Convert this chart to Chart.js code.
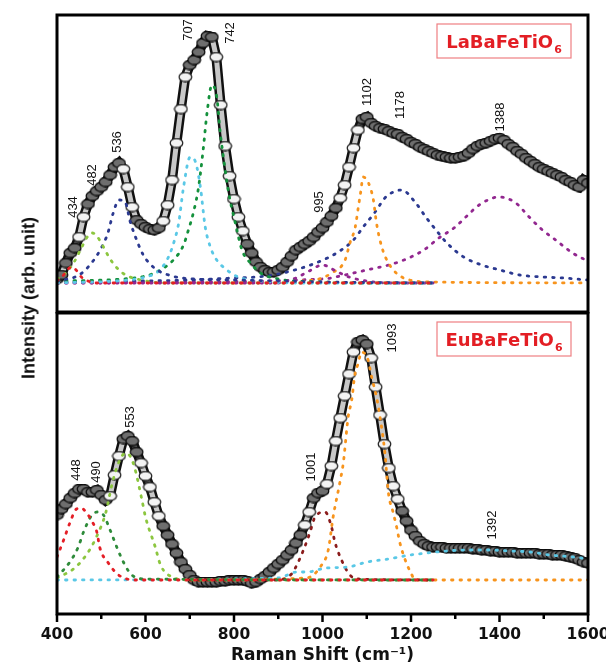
<!DOCTYPE html>
<html>
<head>
<meta charset="utf-8">
<script src="https://cdn.jsdelivr.net/npm/chart.js@4.4.0/dist/chart.umd.min.js"></script>
<style>
    body { margin: 0; background: #fff; }
    #wrap { position: relative; width: 606px; height: 664px; }
    #topChart { position: absolute; left: 0; top: 0; }
    #bottomChart { position: absolute; left: 0; top: 312px; }
    #yTitle {
        position: absolute; left: 29px; top: 298px;
        transform: translate(-50%, -50%) rotate(-90deg);
        font: bold 18px "Liberation Sans", Arial, sans-serif;
        white-space: nowrap; color: #111;
    }
</style>
</head>
<body>
<div id="wrap">
    <canvas id="topChart" width="606" height="314"></canvas>
    <canvas id="bottomChart" width="606" height="352"></canvas>
    <div id="yTitle">Intensity (arb. unit)</div>
</div>
<script>
// Raman shift grid of the measured spectra (cm-1)
const ramanShift = [
    400, 410, 420, 430, 440, 450, 460, 470, 480, 490, 500, 510, 520, 530, 540, 550, 560, 570, 580, 590,
    600, 610, 620, 630, 640, 650, 660, 670, 680, 690, 700, 710, 720, 730, 740, 750, 760, 770, 780, 790,
    800, 810, 820, 830, 840, 850, 860, 870, 880, 890, 900, 910, 920, 930, 940, 950, 960, 970, 980, 990,
    1000, 1010, 1020, 1030, 1040, 1050, 1060, 1070, 1080, 1090, 1100, 1110, 1120, 1130, 1140, 1150, 1160, 1170, 1180, 1190,
    1200, 1210, 1220, 1230, 1240, 1250, 1260, 1270, 1280, 1290, 1300, 1310, 1320, 1330, 1340, 1350, 1360, 1370, 1380, 1390,
    1400, 1410, 1420, 1430, 1440, 1450, 1460, 1470, 1480, 1490, 1500, 1510, 1520, 1530, 1540, 1550, 1560, 1570, 1580, 1590,
    1600
];

// LaBaFeTiO6 measured intensity (arb. unit)
const laSpectrum = [
    4, 8, 20, 30, 35, 46, 66, 79, 87, 92, 96, 101, 108, 116, 120, 114, 96, 76, 63, 59,
    56, 54, 53, 55, 62, 78, 103, 140, 174, 206, 218, 223, 231, 240, 247, 246, 226, 178, 137, 107,
    84, 66, 52, 39, 30, 21, 16, 13, 11, 11, 13, 16, 21, 27, 33, 36, 39, 42, 46, 51,
    55, 61, 67, 75, 85, 98, 116, 135, 153, 164, 166, 160, 157, 155, 154, 152, 150, 149, 146, 144,
    141, 139, 136, 134, 132, 130, 128, 127, 126, 125, 125, 126, 127, 130, 134, 137, 139, 140, 142, 144,
    145, 143, 139, 136, 132, 129, 125, 122, 119, 116, 114, 112, 110, 108, 106, 103, 101, 98, 96, 103,
    100
];

// EuBaFeTiO6 measured intensity (arb. unit)
const euSpectrum = [
    65, 71, 76, 82, 87, 91, 91, 88, 88, 90, 85, 80, 84, 105, 124, 141, 144, 139, 128, 117,
    104, 93, 78, 64, 54, 45, 36, 27, 18, 11, 5, 0, -2, -2, -2, -2, -2, -1, -1, 0,
    0, 0, 0, -1, -3, -2, 1, 4, 8, 12, 16, 20, 25, 30, 37, 45, 55, 68, 82, 87,
    89, 96, 114, 139, 162, 184, 206, 228, 238, 240, 236, 222, 193, 165, 136, 112, 94, 81, 69, 59,
    50, 44, 39, 36, 34, 33, 33, 33, 32, 32, 32, 32, 32, 32, 31, 31, 30, 30, 29, 29,
    28, 28, 28, 28, 27, 27, 27, 27, 27, 26, 26, 26, 25, 25, 25, 24, 23, 22, 20, 18,
    17
];

// LaBaFeTiO6 fitted components
const laFit434X = [400, 415, 425, 435, 445, 455, 470, 490, 1250];
const laFit434Y = [2, 8, 14, 16, 12, 6, 2, 0, 0];
const laFit482X = [400, 420, 440, 455, 470, 480, 490, 505, 520, 540, 560, 590, 640, 1250];
const laFit482Y = [4, 10, 22, 35, 47, 50, 47, 36, 24, 13, 7, 3, 0, 0];
const laFit536X = [400, 450, 478, 500, 515, 527, 540, 555, 565, 580, 595, 620, 660, 710, 800, 900, 1000, 1250];
const laFit536Y = [2, 8, 20, 35, 50, 70, 83, 80, 62, 43, 28, 15, 7, 4, 3, 2, 1, 0];
const laFit707X = [400, 560, 600, 630, 652, 665, 675, 686, 701, 713, 724, 735, 745, 758, 784, 810, 860, 950, 1250];
const laFit707Y = [0, 3, 6, 12, 26, 42, 60, 96, 126, 121, 96, 56, 38, 25, 13, 6, 2, 0, 0];
const laFit742X = [400, 550, 600, 625, 663, 686, 697, 708, 720, 731, 739, 750, 761, 769, 776, 788, 803, 818, 837, 860, 900, 1000, 1100, 1250];
const laFit742Y = [2, 4, 7, 11, 23, 38, 53, 70, 96, 136, 170, 198, 186, 150, 126, 90, 60, 33, 20, 10, 4, 1, 0, 0];
const laFit995X = [400, 900, 940, 970, 1000, 1030, 1060, 1100, 1150, 1250];
const laFit995Y = [0, 0, 5, 12, 18, 12, 6, 2, 0, 0];
const laFit1102X = [800, 980, 1021, 1051, 1062, 1074, 1081, 1086, 1092, 1104, 1115, 1122, 1134, 1149, 1172, 1209, 1250, 1600];
const laFit1102Y = [0, 3, 10, 23, 40, 56, 76, 90, 106, 100, 83, 60, 36, 20, 8, 2, 1, 0];
const laFit1178X = [400, 700, 800, 850, 900, 960, 1001, 1032, 1070, 1092, 1119, 1141, 1160, 1179, 1209, 1235, 1262, 1281, 1319, 1360, 1401, 1446, 1499, 1544, 1600];
const laFit1178Y = [1, 3, 5, 6, 9, 16, 23, 30, 43, 56, 71, 85, 91, 93, 81, 65, 50, 40, 26, 18, 13, 8, 6, 5, 3];
const laFit1388X = [400, 1000, 1050, 1100, 1150, 1184, 1229, 1263, 1297, 1324, 1354, 1399, 1437, 1467, 1497, 1527, 1565, 1590];
const laFit1388Y = [0, 4, 8, 13, 18, 23, 33, 45, 55, 66, 78, 86, 80, 66, 53, 43, 30, 24];

// EuBaFeTiO6 fitted components
const euFit448X = [400, 415, 429, 444, 455, 467, 480, 490, 497, 516, 539, 580, 1250];
const euFit448Y = [23, 40, 57, 71, 72, 67, 58, 48, 32, 17, 5, 0, 0];
const euFit490X = [400, 429, 448, 460, 479, 492, 505, 520, 535, 550, 569, 600, 1250];
const euFit490Y = [3, 18, 33, 48, 65, 68, 65, 50, 33, 18, 5, 1, 0];
const euFit553X = [400, 440, 466, 488, 510, 525, 540, 555, 565, 575, 592, 600, 622, 634, 660, 700, 1250];
const euFit553Y = [2, 12, 25, 42, 67, 97, 118, 127, 124, 113, 80, 63, 33, 15, 3, 0, 0];
const euFitBroadX = [400, 900, 942, 964, 1009, 1058, 1100, 1149, 1198, 1236, 1281, 1326, 1375, 1424, 1469, 1514, 1567, 1600];
const euFitBroadY = [0, 2, 8, 8, 12, 13, 18, 21, 25, 27, 29, 30, 30, 29, 28, 25, 23, 21];
const euFit1001X = [700, 900, 930, 942, 957, 972, 983, 1006, 1021, 1028, 1043, 1062, 1080, 1250];
const euFit1001Y = [0, 0, 6, 15, 30, 48, 63, 68, 52, 38, 20, 5, 1, 0];
const euFit1093X = [700, 964, 998, 1013, 1024, 1039, 1047, 1058, 1066, 1073, 1081, 1088, 1103, 1111, 1122, 1130, 1141, 1149, 1160, 1168, 1175, 1187, 1202, 1209, 1600];
const euFit1093Y = [0, 2, 15, 30, 63, 97, 117, 163, 180, 205, 217, 228, 220, 203, 183, 163, 127, 87, 67, 52, 37, 20, 5, 0, 0];

// Peak annotations: text, anchor shift, anchor intensity
const laPeakText = ['434', '482', '536', '707', '742', '995', '1102', '1178', '1388'];
const laPeakAtX = [436, 481, 536, 698, 791, 994, 1101, 1175, 1401];
const laPeakAtY = [76, 108, 141, 253, 250, 81, 191, 178, 166];
const euPeakText = ['448', '490', '553', '1001', '1093', '1392'];
const euPeakAtX = [445, 490, 565, 976, 1159, 1385];
const euPeakAtY = [110, 108, 163, 113, 242, 55];

const xMajorTicks = [400, 600, 800, 1000, 1200, 1400, 1600];
const xMinorTicks = [500, 700, 900, 1100, 1300, 1500];

// Open-circle markers (slightly wide, like the original figure)
function makeRing(fill, stroke) {
    const cv = document.createElement('canvas');
    cv.width = 15;
    cv.height = 11;
    const c = cv.getContext('2d');
    c.beginPath();
    c.ellipse(7.5, 5.5, 6.3, 4.5, 0, 0, Math.PI * 2);
    c.fillStyle = fill;
    c.fill();
    c.lineWidth = 1.3;
    c.strokeStyle = stroke;
    c.stroke();
    return cv;
}
const lightRing = makeRing('#f3f3f3', '#222');
const darkRing = makeRing('#6e6e6e', '#0a0a0a');

function toPoints(xs, ys) {
    return xs.map((x, i) => ({ x: x, y: ys[i] }));
}

// steep parts of the trace show as stacked white rings, flat parts as dark overlap
function isSteep(ys, i) {
    const a = ys[Math.max(0, i - 1)], b = ys[Math.min(ys.length - 1, i + 1)];
    return Math.abs(b - a) > 22;
}

function spectrumSets(ys) {
    return [
        {
            data: toPoints(ramanShift, ys),
            showLine: true,
            borderColor: '#111',
            borderWidth: 10,
            pointRadius: 0,
            order: 12
        },
        {
            data: toPoints(ramanShift, ys),
            showLine: true,
            borderWidth: 5,
            pointRadius: 0,
            segment: {
                borderColor: c => Math.abs(c.p1.y - c.p0.y) > 2.6 * Math.abs(c.p1.x - c.p0.x) ? '#c8c8c8' : '#4a4a4a'
            },
            order: 11
        },
        {
            data: toPoints(ramanShift, ys),
            showLine: false,
            pointStyle: c => isSteep(ys, c.dataIndex) ? lightRing : darkRing,
            pointRadius: 6,
            order: 10
        }
    ];
}

function fitSet(xs, ys, color) {
    return {
        data: toPoints(xs, ys),
        showLine: true,
        borderColor: color,
        borderWidth: 2.8,
        borderDash: [1.5, 7],
        borderCapStyle: 'round',
        cubicInterpolationMode: 'monotone',
        pointRadius: 0,
        order: 0
    };
}

// Frame, peak labels, compound name box and x tick marks
function panelDecor(peakText, peakX, peakY, compound, withTicks) {
    return {
        id: 'panelDecor',
        afterDatasetsDraw(chart) {
            const ctx = chart.ctx;
            const a = chart.chartArea;
            const xs = chart.scales.x;
            const ys = chart.scales.y;
            ctx.save();

            ctx.fillStyle = '#111';
            ctx.font = '13px "Liberation Sans", Arial, sans-serif';
            ctx.textAlign = 'center';
            ctx.textBaseline = 'middle';
            peakText.forEach((t, i) => {
                ctx.save();
                ctx.translate(xs.getPixelForValue(peakX[i]), ys.getPixelForValue(peakY[i]));
                ctx.rotate(-Math.PI / 2);
                ctx.fillText(t, 0, 0);
                ctx.restore();
            });

            // compound name box
            const bw = 134, bh = 34;
            const bx = a.right - 17 - bw, by = a.top + 9;
            ctx.fillStyle = '#fff';
            ctx.fillRect(bx, by, bw, bh);
            ctx.strokeStyle = '#ef7f82';
            ctx.lineWidth = 1.2;
            ctx.strokeRect(bx, by, bw, bh);
            ctx.fillStyle = '#e31e24';
            ctx.textAlign = 'left';
            ctx.textBaseline = 'alphabetic';
            ctx.font = 'bold 18px "DejaVu Sans", sans-serif';
            const mainW = ctx.measureText(compound).width;
            ctx.font = 'bold 11px "DejaVu Sans", sans-serif';
            const subW = ctx.measureText('6').width;
            const tx = bx + (bw - mainW - subW - 1) / 2;
            ctx.font = 'bold 18px "DejaVu Sans", sans-serif';
            ctx.fillText(compound, tx, by + 24);
            ctx.font = 'bold 11px "DejaVu Sans", sans-serif';
            ctx.fillText('6', tx + mainW + 1, by + 29);

            // frame
            ctx.strokeStyle = '#000';
            ctx.lineWidth = 3;
            ctx.strokeRect(a.left, a.top, a.right - a.left, a.bottom - a.top);

            if (withTicks) {
                ctx.lineWidth = 2.5;
                xMajorTicks.forEach(v => {
                    const px = xs.getPixelForValue(v);
                    ctx.beginPath();
                    ctx.moveTo(px, a.bottom);
                    ctx.lineTo(px, a.bottom + 8);
                    ctx.stroke();
                });
                xMinorTicks.forEach(v => {
                    const px = xs.getPixelForValue(v);
                    ctx.beginPath();
                    ctx.moveTo(px, a.bottom);
                    ctx.lineTo(px, a.bottom + 5);
                    ctx.stroke();
                });
            }
            ctx.restore();
        }
    };
}

// LaBaFeTiO6 panel
new Chart(document.getElementById('topChart'), {
    type: 'scatter',
    data: {
        datasets: spectrumSets(laSpectrum).concat([
            fitSet(laFit434X, laFit434Y, '#e41e26'),
            fitSet(laFit482X, laFit482Y, '#8cc63f'),
            fitSet(laFit536X, laFit536Y, '#2b3990'),
            fitSet(laFit707X, laFit707Y, '#5ac8e6'),
            fitSet(laFit742X, laFit742Y, '#14913c'),
            fitSet(laFit995X, laFit995Y, '#92278f'),
            fitSet(laFit1102X, laFit1102Y, '#f7941d'),
            fitSet(laFit1178X, laFit1178Y, '#2b3990'),
            fitSet(laFit1388X, laFit1388Y, '#92278f')
        ])
    },
    options: {
        responsive: false,
        animation: false,
        events: [],
        layout: { autoPadding: false, padding: { left: 57, right: 18, top: 15, bottom: 2 } },
        plugins: { legend: { display: false }, tooltip: { enabled: false } },
        scales: {
            x: { type: 'linear', min: 400, max: 1600, display: false },
            y: { min: -29, max: 268, display: false }
        }
    },
    plugins: [panelDecor(laPeakText, laPeakAtX, laPeakAtY, 'LaBaFeTiO', false)]
});

// EuBaFeTiO6 panel
new Chart(document.getElementById('bottomChart'), {
    type: 'scatter',
    data: {
        datasets: spectrumSets(euSpectrum).concat([
            fitSet(euFit448X, euFit448Y, '#e41e26'),
            fitSet(euFit490X, euFit490Y, '#2e8b3a'),
            fitSet(euFit553X, euFit553Y, '#8cc63f'),
            fitSet(euFitBroadX, euFitBroadY, '#5ac8e6'),
            fitSet(euFit1001X, euFit1001Y, '#8b1c1c'),
            fitSet(euFit1093X, euFit1093Y, '#f7941d')
        ])
    },
    options: {
        responsive: false,
        animation: false,
        events: [],
        layout: { autoPadding: false, padding: { left: 57, right: 18, top: 1, bottom: 0 } },
        plugins: { legend: { display: false }, tooltip: { enabled: false } },
        scales: {
            x: {
                type: 'linear',
                min: 400,
                max: 1600,
                grid: { display: false, drawTicks: false },
                border: { display: false },
                ticks: {
                    stepSize: 100,
                    padding: 12,
                    autoSkip: false,
                    maxRotation: 0,
                    color: '#111',
                    font: { family: '"DejaVu Sans", sans-serif', size: 15.5, weight: 'bold' },
                    callback: function(value) {
                        return xMajorTicks.includes(value) ? String(value) : '';
                    }
                },
                title: {
                    display: true,
                    text: 'Raman Shift (cm⁻¹)',
                    color: '#111',
                    font: { family: '"DejaVu Sans", sans-serif', size: 17, weight: 'bold', lineHeight: 1 },
                    padding: { top: 0, bottom: 0 }
                },
                afterFit: function(scale) {
                    scale.height = 50;
                    scale.paddingLeft = 0;
                    scale.paddingRight = 0;
                }
            },
            y: { min: -34, max: 267, display: false }
        }
    },
    plugins: [panelDecor(euPeakText, euPeakAtX, euPeakAtY, 'EuBaFeTiO', true)]
});
</script>
</body>
</html>
